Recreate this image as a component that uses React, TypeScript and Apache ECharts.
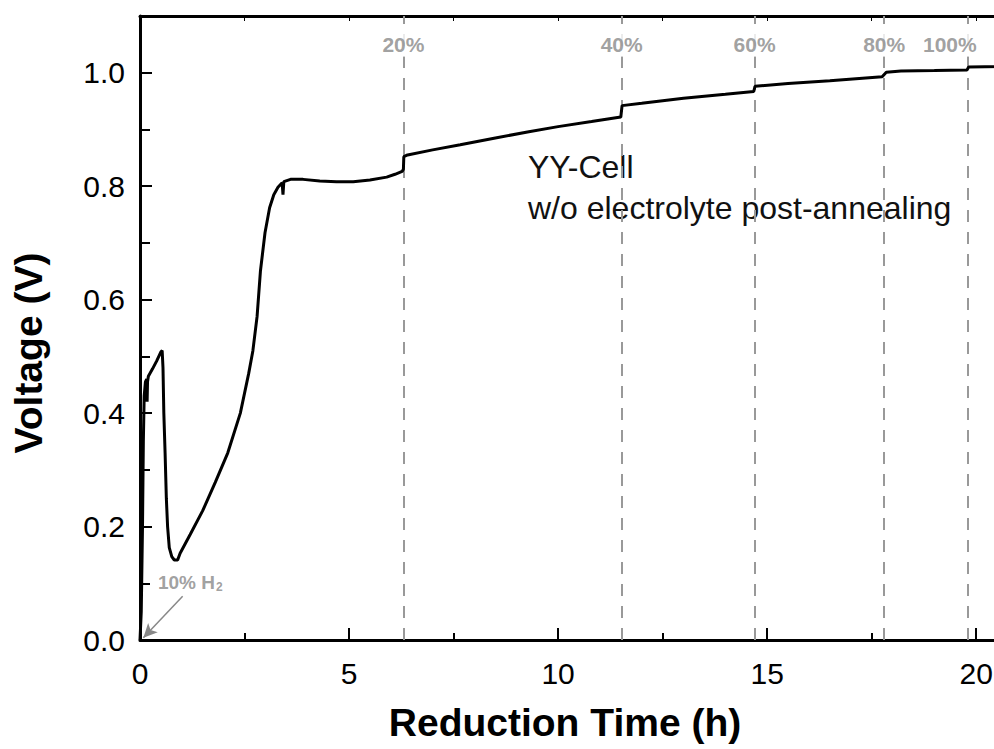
import React, { useEffect, useRef } from "react";
import * as echarts from "echarts";

// Reduction time (h) and cell voltage (V)
const timeH = [
  0, 0.03, 0.06, 0.08, 0.1, 0.13, 0.16, 0.17, 0.18, 0.2, 0.3, 0.4, 0.5, 0.53, 0.55, 0.57, 0.6, 0.63,
  0.66, 0.7, 0.76, 0.82, 0.9, 0.96, 1.2, 1.5, 1.8, 2.1, 2.4, 2.6, 2.7, 2.8, 2.88, 2.99, 3.1, 3.2,
  3.3, 3.4, 3.42, 3.44, 3.6, 3.9, 4.3, 4.7, 5.1, 5.5, 5.9, 6.1, 6.27, 6.3, 6.31, 6.4, 7.0, 7.66,
  8.5, 9.3, 10.0, 10.8, 11.5, 11.53, 12.0, 13.0, 14.0, 14.68, 14.71, 15.5, 16.5, 17.75, 17.85,
  18.2, 19.0, 19.78, 19.82, 20.6, 21.0,
];
const voltage = [
  0, 0.05, 0.2, 0.35, 0.43, 0.455, 0.46, 0.42, 0.455, 0.465, 0.478, 0.492, 0.508, 0.51, 0.48, 0.4,
  0.33, 0.25, 0.2, 0.163, 0.147, 0.141, 0.141, 0.153, 0.186, 0.228, 0.278, 0.33, 0.4, 0.47, 0.51,
  0.57, 0.65, 0.718, 0.762, 0.785, 0.798, 0.806, 0.785, 0.808, 0.812, 0.812, 0.809, 0.808, 0.808,
  0.811, 0.816, 0.821, 0.826, 0.83, 0.852, 0.855, 0.864, 0.873, 0.885, 0.896, 0.905, 0.914, 0.922,
  0.942, 0.946, 0.955, 0.962, 0.967, 0.976, 0.981, 0.986, 0.993, 1.001, 1.003, 1.004, 1.005, 1.01,
  1.011, 1.012,
];

// Reduction-progress markers
const markTimes = [6.3, 11.52, 14.7, 17.8, 19.8];
const markLabels = ["20%", "40%", "60%", "80%", "100%"];
const markLabelY = 1.05;

// Gas switch annotation
const gasLabelPoint = [0.43, 0.102];
const gasArrowFrom = [1.02, 0.077];
const gasArrowTo = [0.08, 0.004];

const xTickLabels = ["0", "5", "10", "15", "20"];

export default function App() {
  const ref = useRef<HTMLDivElement>(null);
  useEffect(() => {
    if (!ref.current) return;
    const chart = echarts.init(ref.current, null, { renderer: "svg" });
    const font = "'Liberation Sans', Arial, sans-serif";
    chart.setOption({
      animation: false,
      backgroundColor: "#fff",
      textStyle: { fontFamily: font },
      grid: {
        left: 140,
        width: 878,
        top: 16,
        bottom: 109,
        containLabel: false,
        outerBoundsMode: "none",
      },
      xAxis: [
        {
          type: "value",
          min: 0,
          max: 21,
          interval: 5,
          position: "bottom",
          axisLine: { show: true, onZero: false, lineStyle: { color: "#000", width: 3 } },
          axisTick: { show: true, inside: true, length: 12, lineStyle: { color: "#000", width: 2 } },
          minorTick: { show: true, splitNumber: 2, length: 7, lineStyle: { color: "#000", width: 2 } },
          splitLine: { show: false },
          axisLabel: {
            show: true,
            margin: 18,
            fontSize: 30,
            color: "#000",
            fontFamily: font,
            showMaxLabel: false,
            formatter: (v: number) => {
              const s = String(v);
              return xTickLabels.includes(s) ? s : "";
            },
          },
        },
        {
          type: "value",
          min: 0,
          max: 21,
          interval: 2.5,
          position: "top",
          axisLine: { show: true, onZero: false, lineStyle: { color: "#000", width: 3 } },
          axisTick: { show: true, inside: true, length: 5, lineStyle: { color: "#000", width: 1 } },
          axisLabel: { show: false },
          splitLine: { show: false },
        },
      ],
      yAxis: {
        type: "value",
        min: 0,
        max: 1.1,
        interval: 0.2,
        axisLine: { show: true, onZero: false, lineStyle: { color: "#000", width: 3 } },
        axisTick: { show: true, inside: true, length: 12, lineStyle: { color: "#000", width: 2 } },
        minorTick: { show: true, splitNumber: 2, length: 10, lineStyle: { color: "#000", width: 2 } },
        splitLine: { show: false },
        axisLabel: {
          margin: 15,
          fontSize: 30,
          color: "#000",
          fontFamily: font,
          showMaxLabel: false,
          formatter: (v: number) => v.toFixed(1),
        },
      },
      series: [
        {
          type: "line",
          data: timeH.map((t, i) => [t, voltage[i]]),
          showSymbol: false,
          symbol: "none",
          lineStyle: { color: "#000", width: 3 },
          z: 5,
          markLine: {
            silent: true,
            symbol: "none",
            label: { show: false },
            lineStyle: { type: [12, 10], color: "#999", width: 2 },
            data: markTimes.map((x) => ({ xAxis: x })),
            z: 2,
          },
        },
        {
          type: "scatter",
          data: markTimes.map((x, i) => ({
            value: [x, markLabelY],
            name: markLabels[i],
            label: i === markTimes.length - 1 ? { offset: [-18, 0] } : undefined,
          })),
          symbolSize: 0,
          silent: true,
          label: {
            show: true,
            position: "inside",
            formatter: (p: any) => p.name,
            color: "#888",
            fontWeight: "bold",
            fontSize: 21,
            fontFamily: font,
            backgroundColor: "#fff",
            padding: [2, 1],
          },
          z: 6,
        },
        {
          type: "scatter",
          data: [{ value: gasLabelPoint }],
          symbolSize: 0,
          silent: true,
          label: {
            show: true,
            position: "right",
            distance: 0,
            formatter: "{a|10% H}{s|2}",
            rich: {
              a: { color: "#888", fontWeight: "bold", fontSize: 19, fontFamily: font },
              s: {
                color: "#888",
                fontWeight: "bold",
                fontSize: 12,
                fontFamily: font,
                padding: [10, 0, 0, 1],
              },
            },
          },
          markLine: {
            silent: true,
            symbol: ["none", "arrow"],
            symbolSize: [10, 14],
            label: { show: false },
            lineStyle: { type: "solid", color: "#888", width: 1.5 },
            data: [[{ coord: gasArrowFrom }, { coord: gasArrowTo }]],
          },
        },
      ],
      graphic: [
        {
          type: "text",
          left: 528,
          top: 146,
          style: {
            text: "YY-Cell\nw/o electrolyte post-annealing",
            fontSize: 32,
            lineHeight: 41,
            fill: "#111",
            fontFamily: font,
          },
        },
        {
          type: "text",
          x: 565,
          y: 722,
          style: {
            text: "Reduction Time (h)",
            fontSize: 39,
            fontWeight: "bold",
            fill: "#000",
            fontFamily: font,
            align: "center",
            verticalAlign: "middle",
          },
        },
        {
          type: "text",
          x: 28,
          y: 353,
          rotation: Math.PI / 2,
          style: {
            text: "Voltage (V)",
            fontSize: 39,
            fontWeight: "bold",
            fill: "#000",
            fontFamily: font,
            align: "center",
            verticalAlign: "middle",
          },
        },
      ],
    });
    return () => chart.dispose();
  }, []);
  return (
    <div
      ref={ref}
      style={{ position: "fixed", left: 0, top: 0, width: 1040, height: 749, background: "#fff" }}
    />
  );
}
